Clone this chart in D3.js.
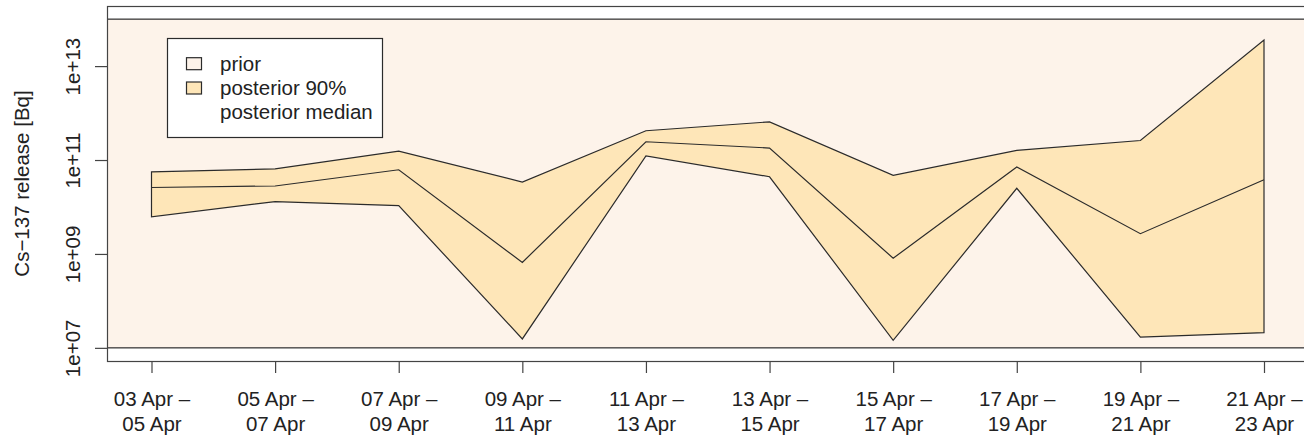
<!DOCTYPE html>
<html>
<head>
<meta charset="utf-8">
<script src="https://cdn.jsdelivr.net/npm/d3@7"></script>
<style>
  body { margin: 0; background: #fff; }
  svg { display: block; }
</style>
</head>
<body>
<div id="chart"></div>
<script>
// release periods (two-day windows)
const periodStart = ["03 Apr", "05 Apr", "07 Apr", "09 Apr", "11 Apr", "13 Apr", "15 Apr", "17 Apr", "19 Apr", "21 Apr"];
const periodEnd = ["05 Apr", "07 Apr", "09 Apr", "11 Apr", "13 Apr", "15 Apr", "17 Apr", "19 Apr", "21 Apr", "23 Apr"];

// posterior estimates, Bq
const upper90 = [5.6e10, 6.5e10, 1.55e11, 3.4e10, 4.2e11, 6.5e11, 4.7e10, 1.6e11, 2.6e11, 3.6e13];
const median = [2.6e10, 2.8e10, 6.2e10, 6.6e8, 2.45e11, 1.8e11, 8.1e8, 7.1e10, 2.7e9, 3.8e10];
const lower90 = [6.2e9, 1.3e10, 1.07e10, 1.55e7, 1.23e11, 4.4e10, 1.45e7, 2.5e10, 1.7e7, 2.1e7];

// prior bounds, Bq
const priorRange = [1e7, 1e14];

const yTicks = [1e7, 1e9, 1e11, 1e13];
const legendLabels = ["prior", "posterior 90%", "posterior median"];

const width = 1304;
const height = 435;
const plot = { left: 107, top: 6, right: 1308.5, bottom: 361 };
const font = "'Liberation Sans', Arial, sans-serif";
const fontSize = "20.5px";
const priorColor = "#fdf3ea";
const postColor = "#fee6b8";
const lineColor = "#2b2b2b";

const idx = d3.range(1, periodStart.length + 1);

// R-style 4% padding on both axes
const xScale = d3.scaleLinear()
    .domain([0.64, periodStart.length + 0.36])
    .range([plot.left, plot.right]);

const logPad = 0.04 * (Math.log10(priorRange[1]) - Math.log10(priorRange[0]));
const yScale = d3.scaleLog()
    .domain([priorRange[0] / Math.pow(10, logPad), priorRange[1] * Math.pow(10, logPad)])
    .range([plot.bottom, plot.top]);

const svg = d3.select("#chart").append("svg")
    .attr("width", width)
    .attr("height", height)
    .attr("viewBox", `0 0 ${width} ${height}`);

svg.append("defs").append("clipPath")
    .attr("id", "plot-clip")
    .append("rect")
    .attr("x", plot.left)
    .attr("y", plot.top)
    .attr("width", plot.right - plot.left)
    .attr("height", plot.bottom - plot.top);

const inner = svg.append("g").attr("clip-path", "url(#plot-clip)");

// prior band across the whole period
inner.append("rect")
    .attr("x", plot.left - 10)
    .attr("y", yScale(priorRange[1]))
    .attr("width", plot.right - plot.left + 30)
    .attr("height", yScale(priorRange[0]) - yScale(priorRange[1]))
    .attr("fill", priorColor)
    .attr("stroke", lineColor)
    .attr("stroke-width", 1.2);

// posterior 90% polygon
const bandPoints = idx.map((d, i) => [xScale(d), yScale(upper90[i])])
    .concat(idx.map((d, i) => [xScale(d), yScale(lower90[i])]).reverse());

inner.append("path")
    .attr("d", d3.line()(bandPoints) + "Z")
    .attr("fill", postColor)
    .attr("stroke", lineColor)
    .attr("stroke-width", 1.2)
    .attr("stroke-linejoin", "miter");

inner.append("path")
    .datum(median)
    .attr("d", d3.line().x((d, i) => xScale(idx[i])).y(d => yScale(d)))
    .attr("fill", "none")
    .attr("stroke", lineColor)
    .attr("stroke-width", 1.2);

// plot box
svg.append("rect")
    .attr("x", plot.left + 0.5)
    .attr("y", plot.top + 0.5)
    .attr("width", plot.right - plot.left)
    .attr("height", plot.bottom - plot.top)
    .attr("fill", "none")
    .attr("stroke", "#444")
    .attr("stroke-width", 1.2);

// y axis
svg.append("g")
    .attr("transform", `translate(${plot.left}, 0)`)
    .call(d3.axisLeft(yScale)
        .tickValues(yTicks)
        .tickSize(12)
        .tickFormat(d => "1e+" + String(Math.round(Math.log10(d))).padStart(2, "0")))
    .call(g => g.select(".domain").remove())
    .call(g => g.selectAll(".tick line").attr("stroke", "#444").attr("stroke-width", 1.2))
    .call(g => g.selectAll(".tick text")
        .attr("transform", "rotate(-90)")
        .attr("x", 0)
        .attr("y", -27)
        .attr("dy", 0)
        .attr("text-anchor", "middle")
        .style("font-family", font)
        .style("font-size", fontSize)
        .style("fill", "#222"));

// x axis with two-line period labels
svg.append("g")
    .attr("transform", `translate(0, ${plot.bottom})`)
    .call(d3.axisBottom(xScale)
        .tickValues(idx)
        .tickSize(12)
        .tickFormat(""))
    .call(g => g.select(".domain").remove())
    .call(g => g.selectAll(".tick line").attr("stroke", "#444").attr("stroke-width", 1.2))
    .call(g => g.selectAll(".tick text").remove())
    .call(g => {
        const t = g.selectAll(".tick").append("text")
            .attr("text-anchor", "middle")
            .style("font-family", font)
            .style("font-size", fontSize)
            .style("fill", "#222");
        t.append("tspan").attr("x", 0).attr("y", 45)
            .text((d, i) => periodStart[i] + " –");
        t.append("tspan").attr("x", 0).attr("y", 70)
            .text((d, i) => periodEnd[i]);
    });

// y axis title
svg.append("text")
    .attr("transform", `translate(29, ${(plot.top + plot.bottom) / 2}) rotate(-90)`)
    .attr("text-anchor", "middle")
    .style("font-family", font)
    .style("font-size", fontSize)
    .style("fill", "#222")
    .text("Cs−137 release [Bq]");

// legend
const legend = svg.append("g").attr("class", "legend");

legend.append("rect")
    .attr("x", 167.5)
    .attr("y", 38.5)
    .attr("width", 215)
    .attr("height", 99)
    .attr("fill", "#fff")
    .attr("stroke", lineColor)
    .attr("stroke-width", 1.2);

const legendFill = [priorColor, postColor, null];

const items = legend.selectAll(".legend-item")
    .data(legendLabels)
    .join("g")
    .attr("class", "legend-item")
    .attr("transform", (d, i) => `translate(0, ${70.7 + i * 24.3})`);

items.filter((d, i) => legendFill[i] !== null)
    .append("rect")
    .attr("x", 186.5)
    .attr("y", -13)
    .attr("width", 15)
    .attr("height", 12)
    .attr("fill", (d, i) => legendFill[i])
    .attr("stroke", lineColor)
    .attr("stroke-width", 1.2);

items.append("text")
    .attr("x", 220)
    .attr("y", 0)
    .style("font-family", font)
    .style("font-size", fontSize)
    .style("fill", "#222")
    .text(d => d);
</script>
</body>
</html>
